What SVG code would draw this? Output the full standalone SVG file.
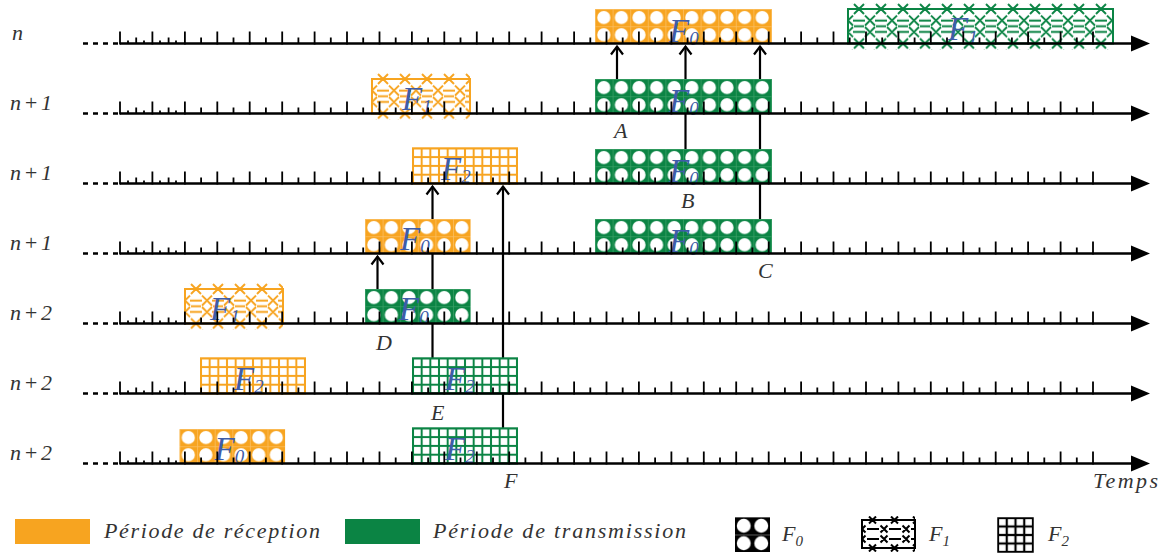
<svg xmlns="http://www.w3.org/2000/svg" width="1166" height="553" viewBox="0 0 1166 553">
<style>
.m{font-family:"Liberation Serif","DejaVu Serif",serif;font-style:italic;fill:#333;font-size:22px}
.bl{font-family:"Liberation Serif","DejaVu Serif",serif;font-style:italic;fill:#3e5ca8;font-size:33px}
.bs{font-size:19px}
.ls{font-size:15px}
.ax{stroke:#000;stroke-width:2.6;fill:none}
.tk{stroke:#000;stroke-width:1.8;fill:none}
.cn{stroke:#000;stroke-width:2.2;fill:none;marker-end:url(#arr)}
.fo{stroke:#f7a420;stroke-width:2}
.fg{stroke:#0b8444;stroke-width:2}
</style>
<defs>
<marker id="arr" viewBox="-10 -8 13 16" refX="0" refY="0" markerWidth="13" markerHeight="16" markerUnits="userSpaceOnUse" orient="auto">
<path d="M-8,-6 L0,0 L-8,6" fill="none" stroke="#000" stroke-width="2.2"/>
</marker>
<pattern id="p0o" width="17.6" height="17.25" patternUnits="userSpaceOnUse">
<rect width="17.6" height="17.25" fill="#f7a420"/>
<path d="M0,0.4H17.6M0.4,0V17.25" stroke="#fbc064" stroke-width="0.8"/>
<circle cx="8.8" cy="8.6" r="6.6" fill="#fff"/>
</pattern>
<pattern id="p0g" width="17.6" height="17.25" patternUnits="userSpaceOnUse">
<rect width="17.6" height="17.25" fill="#0b8444"/>
<path d="M0,0.4H17.6M0.4,0V17.25" stroke="#3aa066" stroke-width="0.8"/>
<circle cx="8.8" cy="8.6" r="6.6" fill="#fff"/>
</pattern>
<pattern id="p0k" width="17.5" height="17.5" patternUnits="userSpaceOnUse">
<rect width="17.5" height="17.5" fill="#000"/>
<path d="M0,0.4H17.5" stroke="#777" stroke-width="0.8"/>
<circle cx="8.75" cy="8.75" r="7" fill="#fff"/>
</pattern>
<pattern id="p1o" width="22" height="34.5" patternUnits="userSpaceOnUse">
<path class="fo" fill="none" d="M6,-5L16,5M16,-5L6,5M6,29.5L16,39.5M16,29.5L6,39.5M-5,6.5L5,16.5M5,6.5L-5,16.5M17,6.5L27,16.5M27,6.5L17,16.5M-5,18L5,28M5,18L-5,28M17,18L27,28M27,18L17,28M5,11.5H17M5,23H17M6,17.25H16"/>
</pattern>
<pattern id="p1g" width="22" height="34.5" patternUnits="userSpaceOnUse">
<path class="fg" fill="none" d="M6,-5L16,5M16,-5L6,5M6,29.5L16,39.5M16,29.5L6,39.5M-5,6.5L5,16.5M5,6.5L-5,16.5M17,6.5L27,16.5M27,6.5L17,16.5M-5,18L5,28M5,18L-5,28M17,18L27,28M27,18L17,28M5,11.5H17M5,23H17M6,17.25H16"/>
</pattern>
<pattern id="p1k" width="22" height="28" patternUnits="userSpaceOnUse">
<path stroke="#000" stroke-width="2" fill="none" d="M7,-3.5L14,3.5M14,-3.5L7,3.5M7,24.5L14,31.5M14,24.5L7,31.5M-3.5,5.5L3.5,12.5M3.5,5.5L-3.5,12.5M18.5,5.5L25.5,12.5M25.5,5.5L18.5,12.5M-3.5,15.5L3.5,22.5M3.5,15.5L-3.5,22.5M18.5,15.5L25.5,22.5M25.5,15.5L18.5,22.5M5,9H17M5,19H17"/>
</pattern>
<pattern id="p2o" width="8.667" height="8.8" patternUnits="userSpaceOnUse">
<rect width="8.667" height="8.8" fill="#f7a420"/>
<rect x="1" y="1" width="6.667" height="6.8" fill="#fff"/>
</pattern>
<pattern id="p2g" width="8.667" height="8.8" patternUnits="userSpaceOnUse">
<rect width="8.667" height="8.8" fill="#0b8444"/>
<rect x="1" y="1" width="6.667" height="6.8" fill="#fff"/>
</pattern>
<pattern id="p2k" width="8.75" height="8.5" patternUnits="userSpaceOnUse">
<rect width="8.75" height="8.5" fill="#000"/>
<rect x="1.1" y="1.1" width="6.55" height="6.3" fill="#fff"/>
</pattern>
<g id="axis">
<path class="ax" d="M83,0H120" stroke-dasharray="5 5"/>
<path class="ax" d="M120,0H1136"/>
<path class="tk" d="M120,1V-12M152.4,1V-12M184.9,1V-12M217.3,1V-12M249.7,1V-12M282.2,1V-12M314.6,1V-12M347,1V-12M379.5,1V-12M411.9,1V-12M444.3,1V-12M476.8,1V-12M509.2,1V-12M541.6,1V-12M574.1,1V-12M606.5,1V-12M638.9,1V-12M671.4,1V-12M703.8,1V-12M736.2,1V-12M768.7,1V-12M801.1,1V-12M833.5,1V-12M866,1V-12M898.4,1V-12M930.8,1V-12M963.3,1V-12M995.7,1V-12M1028.1,1V-12M1060.6,1V-12M1093,1V-12"/>
<path class="tk" d="M136.2,0V-6M168.6,0V-6M201.1,0V-6M233.5,0V-6M265.9,0V-6M298.4,0V-6M330.8,0V-6M363.2,0V-6M395.7,0V-6M428.1,0V-6M460.5,0V-6M493,0V-6M525.4,0V-6M557.8,0V-6M590.3,0V-6M622.7,0V-6M655.1,0V-6M687.6,0V-6M720,0V-6M752.4,0V-6M784.9,0V-6M817.3,0V-6M849.7,0V-6M882.2,0V-6M914.6,0V-6M947,0V-6M979.5,0V-6M1011.9,0V-6M1044.3,0V-6M1076.8,0V-6"/>
<path class="tk" d="M128,0V-3M144,0V-3M160,0V-3M176,0V-3"/>
<polygon points="1131,-8 1150,0 1131,8" fill="#000"/>
</g>
</defs>
<rect width="1166" height="553" fill="#fff"/>

<g id="connectors">
<path class="cn" d="M617,79V46.5"/>
<path class="cn" d="M685.5,149V46.5"/>
<path class="cn" d="M760,219V46.5"/>
<path class="cn" d="M377.5,289V256.5"/>
<path class="cn" d="M432.5,358V186.5"/>
<path class="cn" d="M503,428V186.5"/>
</g>

<g id="nodes">
<g id="r1-rx-f0" transform="translate(595,9)">
<rect width="177" height="34.5" fill="url(#p0o)"/>
<text class="bl" x="74" y="33">F<tspan class="bs" dy="3">0</tspan></text>
</g>
<g id="r1-tx-f1" transform="translate(848,9)">
<rect width="265" height="34.5" fill="#fff"/>
<rect y="-6" width="265" height="46.5" fill="url(#p1g)"/>
<rect width="265" height="34.5" fill="none" class="fg"/>
<text class="bl" x="100" y="31">F<tspan class="bs" dy="4">1</tspan></text>
</g>
<g id="r2-rx-f1" transform="translate(372,79)">
<rect width="98" height="34.5" fill="#fff"/>
<rect y="-6" width="98" height="46.5" fill="url(#p1o)"/>
<rect width="98" height="34.5" fill="none" class="fo"/>
<text class="bl" x="30" y="31">F<tspan class="bs" dy="3">1</tspan></text>
</g>
<g id="r2-tx-f0-A" transform="translate(595,79)">
<rect width="177" height="34.5" fill="url(#p0g)"/>
<text class="bl" x="74" y="33">F<tspan class="bs" dy="3">0</tspan></text>
</g>
<g id="r3-rx-f2" transform="translate(413,148.3)">
<rect width="104" height="35.2" fill="url(#p2o)" class="fo" stroke-width="1.2"/>
<text class="bl" x="28" y="31.7">F<tspan class="bs" dy="3">2</tspan></text>
</g>
<g id="r3-tx-f0-B" transform="translate(595,149)">
<rect width="177" height="34.5" fill="url(#p0g)"/>
<text class="bl" x="74" y="33">F<tspan class="bs" dy="3">0</tspan></text>
</g>
<g id="r4-rx-f0" transform="translate(365,219)">
<rect width="105.6" height="34.5" fill="url(#p0o)"/>
<text class="bl" x="35" y="31">F<tspan class="bs" dy="3">0</tspan></text>
</g>
<g id="r4-tx-f0-C" transform="translate(595,219)">
<rect width="177" height="34.5" fill="url(#p0g)"/>
<text class="bl" x="74" y="33">F<tspan class="bs" dy="3">0</tspan></text>
</g>
<g id="r5-rx-f1" transform="translate(185,289)">
<rect width="98" height="34.5" fill="#fff"/>
<rect y="-6" width="98" height="46.5" fill="url(#p1o)"/>
<rect width="98" height="34.5" fill="none" class="fo"/>
<text class="bl" x="25" y="31">F<tspan class="bs" dy="3">1</tspan></text>
</g>
<g id="r5-tx-f0-D" transform="translate(365,289)">
<rect width="105.6" height="34.5" fill="url(#p0g)"/>
<text class="bl" x="34" y="31">F<tspan class="bs" dy="4">0</tspan></text>
</g>
<g id="r6-rx-f2" transform="translate(201,358.3)">
<rect width="104" height="35.2" fill="url(#p2o)" class="fo" stroke-width="1.2"/>
<text class="bl" x="33" y="32">F<tspan class="bs" dy="3">2</tspan></text>
</g>
<g id="r6-tx-f2-E" transform="translate(413,358.3)">
<rect width="104" height="35.2" fill="url(#p2g)" class="fg" stroke-width="1.2"/>
<text class="bl" x="32" y="32">F<tspan class="bs" dy="3">2</tspan></text>
</g>
<g id="r7-rx-f0" transform="translate(179.5,429)">
<rect width="105.6" height="34.5" fill="url(#p0o)"/>
<text class="bl" x="35" y="31">F<tspan class="bs" dy="3">0</tspan></text>
</g>
<g id="r7-tx-f2-F" transform="translate(413,428.3)">
<rect width="104" height="35.2" fill="url(#p2g)" class="fg" stroke-width="1.2"/>
<text class="bl" x="32" y="32">F<tspan class="bs" dy="3">2</tspan></text>
</g>
</g>

<g id="axes">
<use href="#axis" y="43.5"/>
<use href="#axis" y="113.5"/>
<use href="#axis" y="183.5"/>
<use href="#axis" y="253.5"/>
<use href="#axis" y="323.5"/>
<use href="#axis" y="393.5"/>
<use href="#axis" y="463.5"/>
</g>

<g id="labels">
<text class="m" x="12" y="40">n</text>
<text class="m" x="10" y="110" textLength="42" lengthAdjust="spacing">n+1</text>
<text class="m" x="10" y="180" textLength="42" lengthAdjust="spacing">n+1</text>
<text class="m" x="10" y="250" textLength="42" lengthAdjust="spacing">n+1</text>
<text class="m" x="10" y="320" textLength="42" lengthAdjust="spacing">n+2</text>
<text class="m" x="10" y="390" textLength="42" lengthAdjust="spacing">n+2</text>
<text class="m" x="10" y="460" textLength="42" lengthAdjust="spacing">n+2</text>
<text class="m" x="614" y="138">A</text>
<text class="m" x="681" y="208">B</text>
<text class="m" x="758" y="278">C</text>
<text class="m" x="376" y="350">D</text>
<text class="m" x="431" y="420">E</text>
<text class="m" x="504" y="488">F</text>
<text class="m" x="1093" y="488" textLength="65" lengthAdjust="spacing">Temps</text>
</g>

<g id="legend">
<g id="leg-rx">
<rect x="15" y="519" width="75" height="25" fill="#f7a420"/>
<text class="m" x="104" y="538" textLength="216" lengthAdjust="spacing">Période de réception</text>
</g>
<g id="leg-tx">
<rect x="345" y="519" width="75" height="25" fill="#0b8444"/>
<text class="m" x="433" y="538" textLength="253" lengthAdjust="spacing">Période de transmission</text>
</g>
<g id="leg-f0" transform="translate(735,517)">
<rect width="35" height="35" fill="url(#p0k)"/>
<text class="m" x="47" y="24">F<tspan class="ls" dy="5">0</tspan></text>
</g>
<g id="leg-f1" transform="translate(862,520)">
<rect width="53" height="28" fill="#fff"/>
<rect y="-4" width="53" height="36" fill="url(#p1k)"/>
<rect width="53" height="28" fill="none" stroke="#000" stroke-width="2"/>
<text class="m" x="67" y="21">F<tspan class="ls" dy="5">1</tspan></text>
</g>
<g id="leg-f2" transform="translate(998,518)">
<rect width="35" height="34" fill="url(#p2k)" stroke="#000" stroke-width="1.5"/>
<text class="m" x="50" y="23">F<tspan class="ls" dy="5">2</tspan></text>
</g>
</g>
</svg>
